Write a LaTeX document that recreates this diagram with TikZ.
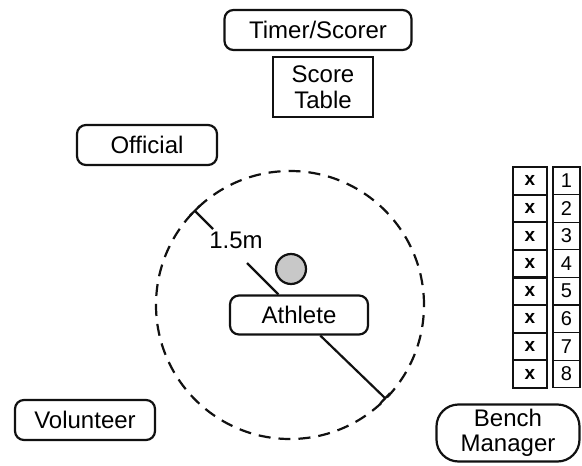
\documentclass[tikz,border=0pt]{standalone}
\usepackage{fontspec}
\setmainfont{Liberation Sans}
\usetikzlibrary{arrows.meta}
\definecolor{ballgray}{HTML}{C8C8C8}
\definecolor{ink}{HTML}{111111}

\begin{document}
\begin{tikzpicture}[x=1pt,y=-1pt,font=\fontsize{24}{26}\selectfont,
  role/.style={draw=ink,line width=2.2pt,rounded corners=9pt,minimum height=40pt,inner sep=2pt},
  tablebox/.style={draw=ink,line width=2.2pt,align=center,minimum width=100pt,minimum height=60pt,inner sep=1pt},
  xcell/.style={draw=ink,line width=2.2pt,minimum width=34pt,minimum height=27.6pt,inner sep=0pt,font=\fontsize{19}{19}\selectfont\bfseries},
  numcell/.style={draw=ink,line width=1.1pt,minimum width=27pt,minimum height=27.6pt,inner sep=0pt,font=\fontsize{20}{20}\selectfont},
  dimline/.style={ink,line width=2.2pt}]
\useasboundingbox (0,0) rectangle (582,466);
\def\rowh{27.6}
\def\rowtop{167}

% people and table
\node[role,minimum width=187pt] (timer) at (318,30) {Timer/Scorer};
\node[tablebox] (scoretable) at (323,87) {Score\\Table};
\node[role,minimum width=140pt] (official) at (147,145) {Official};
\node[role,minimum width=140pt] (volunteer) at (85,420) {Volunteer};
\node[role,minimum width=143pt,minimum height=57pt,rounded corners=22pt,align=center,font=\fontsize{24}{25}\selectfont] (bench) at (508,433) {Bench\\Manager};

% throwing circle
\coordinate (ctr) at (290,305);
\draw[ink,line width=2.2pt,dash pattern=on 12pt off 8pt] (ctr) circle[radius=134pt];
\node[circle,draw=ink,fill=ballgray,line width=2.2pt,minimum size=30pt,inner sep=0pt] (ball) at (291,269) {};
\node[role,minimum width=138pt,minimum height=39pt] (athlete) at (299,315) {Athlete};
\node[inner sep=1pt] (radlabel) at (236,240) {1.5m};

\coordinate (rimA) at (194,210);
\coordinate (dimA) at (213,229);
\coordinate (dimB) at (247,263);
\coordinate (rimB) at (386,399);
\draw[dimline,{Bar[width=14pt]}-] (rimA) -- (dimA);
\draw[dimline] (dimB) -- (athlete);
\draw[dimline,-{Bar[width=14pt]}] (athlete) -- (rimB);

% bench seats
\foreach \i in {1,...,8} {
  \node[xcell] (x\i) at (530,{\rowtop+(\i-0.5)*\rowh}) {x};
  \node[numcell] (n\i) at (566.5,{\rowtop+(\i-0.5)*\rowh}) {\i};
}
\end{tikzpicture}
\end{document}
